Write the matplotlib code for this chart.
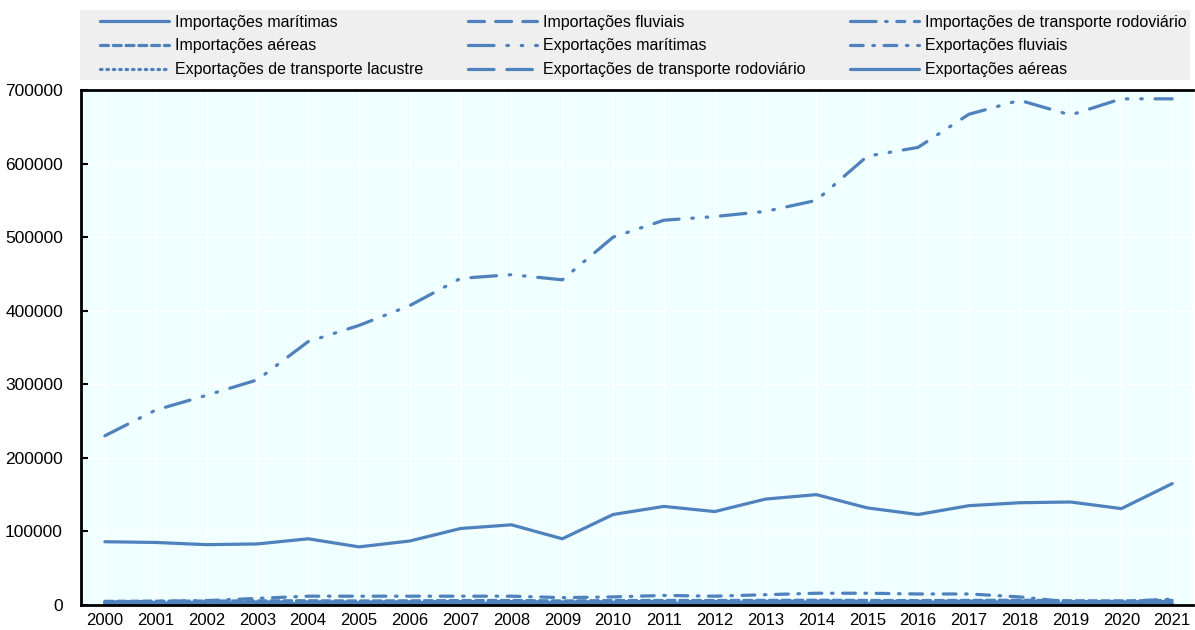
# Freight transport by mode - imports/exports (Portuguese labels)
import numpy as np
import matplotlib.pyplot as plt
from matplotlib.patches import Rectangle

plt.rcParams['font.family'] = ['Liberation Sans', 'DejaVu Sans']

years = list(range(2000, 2022))

# values
imp_maritimas = [86000, 85000, 82000, 83000, 90000, 79000, 87000, 104000, 109000, 90000, 123000,
                 134000, 127000, 144000, 150000, 132000, 123000, 135000, 139000, 140000, 131000, 165000]
imp_fluviais = [1500, 1500, 1600, 1700, 1800, 1800, 1900, 2000, 2000, 1800, 2000,
                2100, 2000, 2100, 2200, 2100, 2000, 2100, 2200, 2000, 1900, 2000]
imp_rodoviario = [3000, 3200, 3500, 4000, 4200, 4000, 4300, 4500, 4600, 4000, 4500,
                  4800, 4700, 5000, 5200, 5000, 4900, 5100, 5300, 4500, 4200, 4800]
imp_aereas = [5000, 5200, 5400, 5600, 5800, 5500, 5700, 6000, 6200, 5500, 6000,
              6200, 6100, 6300, 6500, 6200, 6000, 6300, 6500, 5800, 5600, 6200]
exp_maritimas = [230000, 265000, 285000, 306000, 358000, 380000, 407000, 444000, 449000, 442000, 500000,
                 523000, 528000, 535000, 550000, 610000, 622000, 667000, 686000, 666000, 688000, 688000]
exp_fluviais = [4000, 5000, 6000, 9000, 12000, 12000, 12000, 12000, 12000, 10000, 11000,
                13000, 12000, 14000, 16000, 16000, 15000, 15000, 11000, 4000, 5000, 8000]
exp_lacustre = [300, 300, 300, 300, 300, 300, 300, 300, 300, 300, 300,
                300, 300, 300, 300, 300, 300, 300, 300, 300, 300, 300]
exp_rodoviario = [2500, 2600, 2800, 3000, 3200, 3100, 3300, 3500, 3600, 3200, 3500,
                  3700, 3600, 3800, 4000, 3900, 3800, 4000, 4100, 3700, 3500, 3900]
exp_aereas = [1500, 1600, 1700, 1800, 2000, 1900, 2000, 2100, 2200, 1900, 2100,
              2200, 2100, 2300, 2400, 2300, 2200, 2300, 2400, 2100, 2000, 2200]

series = [
    ('Importações marítimas', imp_maritimas, '-'),
    ('Importações fluviais', imp_fluviais, (0, (5, 3.5))),
    ('Importações de transporte rodoviário', imp_rodoviario, (0, (8, 3, 0.5, 3, 2.5, 3))),
    ('Importações aéreas', imp_aereas, (0, (2.5, 1.5))),
    ('Exportações marítimas', exp_maritimas, (0, (8, 4, 0.5, 4, 0.5, 4))),
    ('Exportações fluviais', exp_fluviais, (0, (4, 3, 0.5, 3))),
    ('Exportações de transporte lacustre', exp_lacustre, (0, (0.5, 1.5))),
    ('Exportações de transporte rodoviário', exp_rodoviario, (0, (8, 4))),
    ('Exportações aéreas', exp_aereas, '-'),
]

color = '#4F81BD'
W, H = 1195, 630

fig = plt.figure(figsize=(W / 100, H / 100), dpi=100)
ax = fig.add_axes([81 / W, 1 - 605 / H, (1193 - 81) / W, (605 - 90) / H])
ax.set_facecolor('#F0FFFF')

handles = []
for name, vals, ls in series:
    h, = ax.plot(years, vals, color=color, lw=2.3, linestyle=ls,
                 dash_capstyle='round', solid_capstyle='round', label=name)
    handles.append(h)

ax.set_xlim(1999.53, 2021.41)
ax.set_ylim(0, 700000)
ax.set_xticks(years)
ax.set_yticks(range(0, 700001, 100000))
ax.grid(True, color='white', lw=1)
ax.set_axisbelow(True)
ax.tick_params(axis='x', length=0, labelsize=12, pad=6)
ax.tick_params(axis='y', direction='in', length=5, width=1.5, labelsize=12.5, pad=13)
for s in ['top', 'bottom', 'left']:
    ax.spines[s].set_linewidth(2)
    ax.spines[s].set_color('black')
ax.spines['right'].set_visible(False)

# gray legend band
fig.patches.append(Rectangle((80 / W, 1 - 80 / H), (1190 - 80) / W, 70 / H,
                             transform=fig.transFigure, facecolor='#EFEFEF',
                             edgecolor='none', zorder=0))

# row-wise legend order in 3 columns
order = [0, 3, 6, 1, 4, 7, 2, 5, 8]
leg = fig.legend([handles[i] for i in order], [series[i][0] for i in order],
                 ncol=3, loc='upper left', bbox_to_anchor=(100 / W, 1 - 21 / H, (1187 - 100) / W, 0.01),
                 mode='expand', frameon=False, fontsize=11.5,
                 handlelength=4.3, handletextpad=0.4, labelspacing=0.55,
                 borderpad=0.0, borderaxespad=0)

plt.savefig('out.png', dpi=100)
